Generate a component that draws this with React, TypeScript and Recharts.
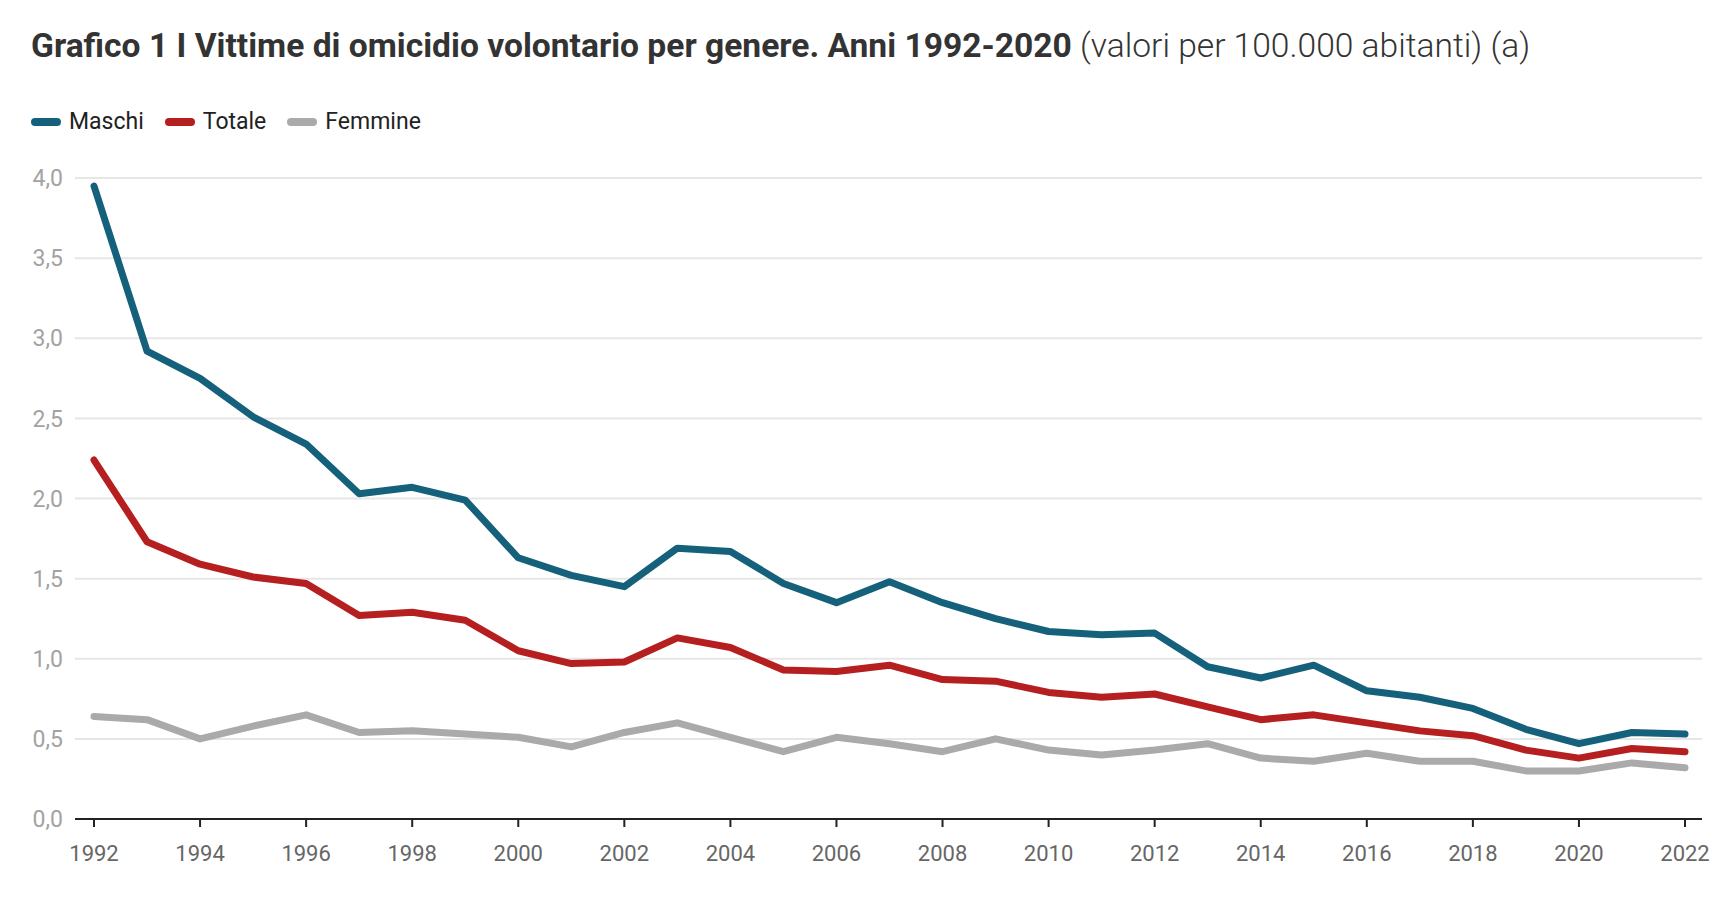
import { LineChart, Line, XAxis, YAxis, CartesianGrid } from "recharts";

const years = [
  1992, 1993, 1994, 1995, 1996, 1997, 1998, 1999, 2000, 2001, 2002, 2003, 2004, 2005, 2006, 2007,
  2008, 2009, 2010, 2011, 2012, 2013, 2014, 2015, 2016, 2017, 2018, 2019, 2020, 2021, 2022,
];

const maschi = [
  3.95, 2.92, 2.75, 2.51, 2.34, 2.03, 2.07, 1.99, 1.63, 1.52, 1.45, 1.69, 1.67, 1.47, 1.35, 1.48,
  1.35, 1.25, 1.17, 1.15, 1.16, 0.95, 0.88, 0.96, 0.8, 0.76, 0.69, 0.56, 0.47, 0.54, 0.53,
];

const totale = [
  2.24, 1.73, 1.59, 1.51, 1.47, 1.27, 1.29, 1.24, 1.05, 0.97, 0.98, 1.13, 1.07, 0.93, 0.92, 0.96,
  0.87, 0.86, 0.79, 0.76, 0.78, 0.7, 0.62, 0.65, 0.6, 0.55, 0.52, 0.43, 0.38, 0.44, 0.42,
];

const femmine = [
  0.64, 0.62, 0.5, 0.58, 0.65, 0.54, 0.55, 0.53, 0.51, 0.45, 0.54, 0.6, 0.51, 0.42, 0.51, 0.47,
  0.42, 0.5, 0.43, 0.4, 0.43, 0.47, 0.38, 0.36, 0.41, 0.36, 0.36, 0.3, 0.3, 0.35, 0.32,
];

const xTicks = [1992, 1994, 1996, 1998, 2000, 2002, 2004, 2006, 2008, 2010, 2012, 2014, 2016, 2018, 2020, 2022];
const yTicks = [0, 0.5, 1, 1.5, 2, 2.5, 3, 3.5, 4];

const SERIES = [
  { key: "maschi", label: "Maschi", color: "#15607a" },
  { key: "totale", label: "Totale", color: "#b61f1f" },
  { key: "femmine", label: "Femmine", color: "#aaaaaa" },
];

const rows = years.map((year, i) => ({
  year,
  maschi: maschi[i],
  totale: totale[i],
  femmine: femmine[i],
}));

const fmt = (v: number) => v.toFixed(1).replace(".", ",");

export default function App() {
  return (
    <div style={{ position: "relative", width: 1718, height: 882, fontFamily: "Roboto, sans-serif", background: "#fff" }}>
      <div
        style={{
          position: "absolute",
          left: 23,
          top: 18,
          fontSize: 33.6,
          lineHeight: "40px",
          color: "#333",
          whiteSpace: "nowrap",
        }}
      >
        <span style={{ fontWeight: 700 }}>Grafico 1 I Vittime di omicidio volontario per genere. Anni 1992-2020</span>{" "}
        <span style={{ fontWeight: 300 }}>(valori per 100.000 abitanti) (a)</span>
      </div>
      <div style={{ position: "absolute", left: 23, top: 100, display: "flex", gap: 21, fontSize: 23, color: "#222" }}>
        {SERIES.map((s) => (
          <div key={s.key} style={{ display: "flex", alignItems: "center", gap: 8 }}>
            <span style={{ width: 30, height: 8, borderRadius: 4, background: s.color, display: "inline-block" }} />
            <span>{s.label}</span>
          </div>
        ))}
      </div>
      <LineChart width={1718} height={882} data={rows} margin={{ top: 170, right: 24, bottom: 31, left: 0 }}>
        <CartesianGrid vertical={false} stroke="#e6e6e6" strokeWidth={2} />
        <XAxis
          dataKey="year"
          type="number"
          domain={[1992, 2022]}
          ticks={xTicks}
          padding={{ left: 19, right: 17 }}
          height={40}
          tickSize={8}
          tickMargin={18}
          axisLine={{ stroke: "#222", strokeWidth: 2 }}
          tickLine={{ stroke: "#222", strokeWidth: 2 }}
          tick={{ fill: "#666", fontSize: 22, fontFamily: "Roboto" }}
        />
        <YAxis
          domain={[0, 4]}
          ticks={yTicks}
          width={67}
          axisLine={false}
          tickLine={false}
          tickFormatter={fmt}
          tickMargin={6}
          tick={{ fill: "#a3a3a3", fontSize: 23, fontFamily: "Roboto" }}
        />
        {SERIES.map((s) => (
          <Line
            key={s.key}
            type="linear"
            dataKey={s.key}
            stroke={s.color}
            strokeWidth={7}
            strokeLinecap="round"
            strokeLinejoin="round"
            dot={false}
            activeDot={false}
            isAnimationActive={false}
          />
        ))}
      </LineChart>
    </div>
  );
}
